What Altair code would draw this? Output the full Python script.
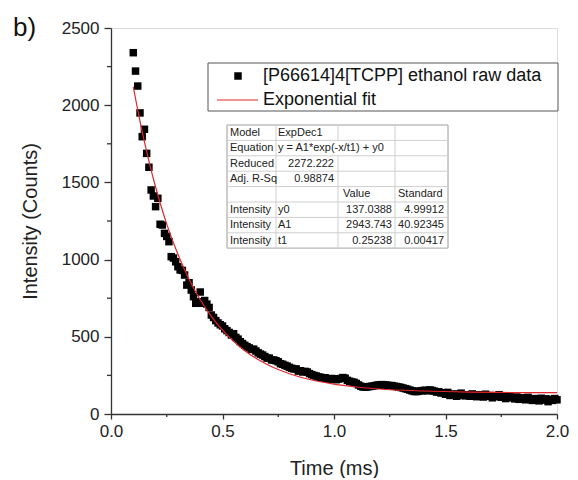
import altair as alt
import pandas as pd

FONT = "Liberation Sans"

# ---------------- data ----------------
time_ms = [
    0.10, 0.11, 0.12, 0.13, 0.14, 0.15, 0.16, 0.17, 0.18, 0.19,
    0.20, 0.21, 0.22, 0.23, 0.24, 0.25, 0.26, 0.27, 0.28, 0.29,
    0.30, 0.31, 0.32, 0.33, 0.34, 0.35, 0.36, 0.37, 0.38, 0.39,
    0.40, 0.41, 0.42, 0.43, 0.44, 0.45, 0.46, 0.47, 0.48, 0.49,
    0.50, 0.51, 0.52, 0.53, 0.54, 0.55, 0.56, 0.57, 0.58, 0.59,
    0.60, 0.61, 0.62, 0.63, 0.64, 0.65, 0.66, 0.67, 0.68, 0.69,
    0.70, 0.71, 0.72, 0.73, 0.74, 0.75, 0.76, 0.77, 0.78, 0.79,
    0.80, 0.81, 0.82, 0.83, 0.84, 0.85, 0.86, 0.87, 0.88, 0.89,
    0.90, 0.91, 0.92, 0.93, 0.94, 0.95, 0.96, 0.97, 0.98, 0.99,
    1.00, 1.01, 1.02, 1.03, 1.04, 1.05, 1.06, 1.07, 1.08, 1.09,
    1.10, 1.11, 1.12, 1.13, 1.14, 1.15, 1.16, 1.17, 1.18, 1.19,
    1.20, 1.21, 1.22, 1.23, 1.24, 1.25, 1.26, 1.27, 1.28, 1.29,
    1.30, 1.31, 1.32, 1.33, 1.34, 1.35, 1.36, 1.37, 1.38, 1.39,
    1.40, 1.41, 1.42, 1.43, 1.44, 1.45, 1.46, 1.47, 1.48, 1.49,
    1.50, 1.51, 1.52, 1.53, 1.54, 1.55, 1.56, 1.57, 1.58, 1.59,
    1.60, 1.61, 1.62, 1.63, 1.64, 1.65, 1.66, 1.67, 1.68, 1.69,
    1.70, 1.71, 1.72, 1.73, 1.74, 1.75, 1.76, 1.77, 1.78, 1.79,
    1.80, 1.81, 1.82, 1.83, 1.84, 1.85, 1.86, 1.87, 1.88, 1.89,
    1.90, 1.91, 1.92, 1.93, 1.94, 1.95, 1.96, 1.97, 1.98, 1.99,
    2.00,
]
intensity = [
    2340, 2221, 2124, 1950, 1796, 1844, 1688, 1598, 1451, 1412,
    1343, 1397, 1229, 1224, 1170, 1150, 1116, 1019, 1010, 986,
    954, 933, 930, 900, 835, 850, 803, 760, 717, 727,
    790, 717, 735, 712, 690, 641, 625, 605, 590, 578,
    570, 552, 540, 528, 512, 520, 496, 485, 468, 456,
    445, 436, 428, 418, 420, 408, 396, 388, 382, 372,
    362, 362, 350, 350, 345, 338, 326, 322, 315, 310,
    302, 296, 292, 292, 278, 280, 272, 276, 272, 262,
    255, 250, 246, 240, 238, 233, 235, 228, 226, 230,
    228, 222, 226, 230, 236, 232, 218, 212, 208, 205,
    198, 188, 180, 175, 174, 176, 178, 180, 183, 186,
    188, 190, 190, 188, 186, 184, 184, 180, 178, 175,
    172, 168, 164, 160, 155, 150, 146, 145, 148, 150,
    152, 154, 150, 156, 152, 148, 142, 144, 136, 138,
    128, 140, 120, 125, 130, 115, 125, 135, 120, 118,
    125, 115, 130, 120, 112, 125, 118, 110, 128, 115,
    120, 105, 118, 112, 125, 108, 115, 100, 112, 118,
    105, 98, 110, 95, 105, 100, 92, 108, 95, 88,
    100, 95, 85, 102, 90, 98, 80, 95, 88, 100,
    92,
]
fit_time = [0.10, 0.125, 0.15, 0.175, 0.20, 0.225, 0.25, 0.30, 0.35, 0.40,
            0.45, 0.50, 0.55, 0.60, 0.65, 0.70, 0.75, 0.80, 0.90, 1.00,
            1.10, 1.20, 1.40, 1.60, 1.80, 2.00]
fit_intensity = [2118, 1931, 1762, 1609, 1470, 1344, 1230, 1034, 873, 740,
                 632, 543, 470, 410, 361, 321, 288, 261, 220, 193,
                 175, 162, 149, 142, 139, 138]

x_major = [0.0, 0.5, 1.0, 1.5, 2.0]
x_minor = [0.25, 0.75, 1.25, 1.75]
y_major = [0, 500, 1000, 1500, 2000, 2500]
y_minor = [250, 750, 1250, 1750, 2250]

legend_labels = ["[P66614]4[TCPP] ethanol raw data", "Exponential fit"]
panel_label = "b)"
x_title = "Time (ms)"
y_title = "Intensity (Counts)"

table_rows = [
    ["Model", "ExpDec1", "", ""],
    ["Equation", "y = A1*exp(-x/t1) + y0", "", ""],
    ["Reduced", "2272.222", "", ""],
    ["Adj. R-Sq", "0.98874", "", ""],
    ["", "", "Value", "Standard"],
    ["Intensity", "y0", "137.0388", "4.99912"],
    ["Intensity", "A1", "2943.743", "40.92345"],
    ["Intensity", "t1", "0.25238", "0.00417"],
]

# ---------------- layout ----------------
W, H = 446, 386
RED = "#e3262b"
AXC = "#333333"
MSIZE = 56

xs = alt.Scale(domain=[0, 2.0], nice=False, zero=False)
ys = alt.Scale(domain=[0, 2500], nice=False)

pts = pd.DataFrame({"t": time_ms, "v": intensity})
fit = pd.DataFrame({"t": fit_time, "v": fit_intensity})

scatter = alt.Chart(pts).mark_point(
    shape="square", filled=True, size=MSIZE, color="black", opacity=1
).encode(
    x=alt.X("t:Q", scale=xs, axis=alt.Axis(
        values=x_major, format=".1f", tickSize=5, tickWidth=1.3, tickColor=AXC,
        domainColor=AXC, domainWidth=1.3, labelFontSize=17, labelColor="#222",
        labelFont=FONT, labelPadding=4, labelFlush=False, grid=False,
        title=x_title, titleFont=FONT, titleFontSize=20, titleFontWeight="normal",
        titleColor="#222", titleX=W / 2, titleY=60, titleAlign="center",
        titleBaseline="alphabetic")),
    y=alt.Y("v:Q", scale=ys, axis=alt.Axis(
        values=y_major, format="d", tickSize=7, tickWidth=1.3, tickColor=AXC,
        domainColor=AXC, domainWidth=1.3, labelFontSize=17, labelColor="#222",
        labelFont=FONT, labelPadding=5, labelFlush=False, grid=False,
        title=y_title, titleFont=FONT, titleFontSize=20, titleFontWeight="normal",
        titleColor="#222", titleX=-75, titleY=H / 2, titleAngle=-90,
        titleAlign="center", titleBaseline="alphabetic")),
)

fit_line = alt.Chart(fit).mark_line(
    color=RED, strokeWidth=1.2, interpolate="monotone"
).encode(x=alt.X("t:Q", scale=xs), y=alt.Y("v:Q", scale=ys))

xminor = alt.Chart(pd.DataFrame({"t": x_minor})).mark_rule(
    color=AXC, strokeWidth=1.3
).encode(x=alt.X("t:Q", scale=xs), y=alt.value(H), y2=alt.value(H + 3))

yminor = alt.Chart(pd.DataFrame({"v": y_minor})).mark_rule(
    color=AXC, strokeWidth=1.3
).encode(y=alt.Y("v:Q", scale=ys), x=alt.value(0), x2=alt.value(-4))

# panel label
label = alt.Chart(pd.DataFrame({"s": [panel_label]})).mark_text(
    align="left", baseline="alphabetic", fontSize=26, font=FONT, color="#111"
).encode(x=alt.value(-98), y=alt.value(8), text="s:N")

# legend
LX0, LX1, LY0, LY1 = 97, 447, 35, 83
legend_box = alt.Chart(pd.DataFrame({"a": [0]})).mark_rect(
    fill="white", stroke="#555555", strokeWidth=1
).encode(x=alt.value(LX0), x2=alt.value(LX1), y=alt.value(LY0), y2=alt.value(LY1))
legend_sym = alt.Chart(pd.DataFrame({"a": [0]})).mark_point(
    shape="square", filled=True, size=MSIZE, color="black", opacity=1
).encode(x=alt.value(127), y=alt.value(48))
legend_line = alt.Chart(pd.DataFrame({"a": [0]})).mark_rule(
    color=RED, strokeWidth=1.2
).encode(x=alt.value(106), x2=alt.value(147), y=alt.value(72))
legend_text = alt.Chart(pd.DataFrame({"s": legend_labels, "py": [48, 72]})).mark_text(
    align="left", baseline="middle", fontSize=18, font=FONT, color="#111"
).encode(x=alt.value(152), y=alt.Y("py:Q", scale=None, axis=None), text="s:N")

# table
TX0, TX1, TY0, RH = 116, 337, 97, 15.4
col_div = [165, 227, 284]
nrows = len(table_rows)
TY1 = TY0 + RH * nrows

anchors = {(0, "left"): 119, (1, "left"): 167, (1, "right"): 223,
           (2, "left"): 232, (2, "right"): 281,
           (3, "left"): 287, (3, "right"): 333}
cells = []
for r, row in enumerate(table_rows):
    for c, txt in enumerate(row):
        if not txt:
            continue
        if c == 0:
            al = "left"
        elif c == 1:
            al = "right" if r in (2, 3) else "left"
        else:
            al = "left" if r == 4 else "right"
        cells.append({"s": txt, "al": al, "px": anchors[(c, al)],
                      "py": TY0 + RH * (r + 0.5)})
cells = pd.DataFrame(cells)

segs = []
for k in range(nrows + 1):
    segs.append({"x": TX0, "x2": TX1, "y": TY0 + RH * k, "y2": TY0 + RH * k})
for cx in col_div:
    if cx == 227:
        segs.append({"x": cx, "x2": cx, "y": TY0, "y2": TY0 + RH})
        segs.append({"x": cx, "x2": cx, "y": TY0 + 2 * RH, "y2": TY1})
    else:
        segs.append({"x": cx, "x2": cx, "y": TY0, "y2": TY1})
segs = pd.DataFrame(segs)

table_bg = alt.Chart(pd.DataFrame({"a": [0]})).mark_rect(
    fill="white", stroke="#9a9a9a", strokeWidth=1
).encode(x=alt.value(TX0), x2=alt.value(TX1), y=alt.value(TY0), y2=alt.value(TY1))
table_lines = alt.Chart(segs).mark_rule(color="#cfcfcf", strokeWidth=1).encode(
    x=alt.X("x:Q", scale=None, axis=None), x2="x2:Q",
    y=alt.Y("y:Q", scale=None, axis=None), y2="y2:Q")


def tbl_text(al):
    return alt.Chart(cells[cells["al"] == al]).mark_text(
        align=al, baseline="middle", fontSize=11, font=FONT, color="#222"
    ).encode(x=alt.X("px:Q", scale=None, axis=None),
             y=alt.Y("py:Q", scale=None, axis=None), text="s:N")


chart = alt.layer(
    scatter, fit_line, xminor, yminor, label,
    legend_box, legend_sym, legend_line, legend_text,
    table_bg, table_lines, tbl_text("left"), tbl_text("right"),
).properties(
    width=W, height=H,
    autosize=alt.AutoSizeParams(type="none"),
    padding={"left": 103, "top": 20, "right": 13, "bottom": 64},
).configure_view(stroke=None).configure(background="white")

chart.save("out.html", embed_options={"renderer": "svg", "actions": False})
